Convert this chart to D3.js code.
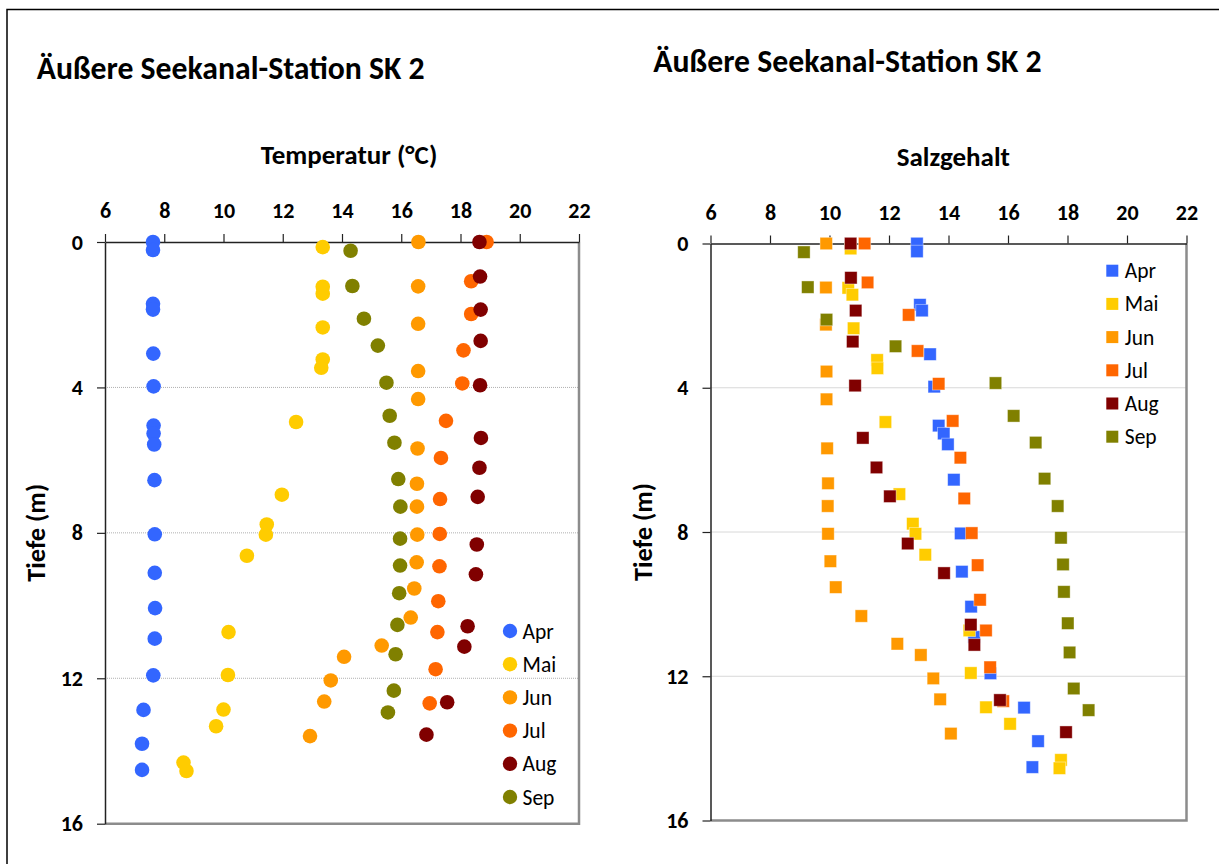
<!DOCTYPE html>
<html>
<head>
<meta charset="utf-8">
<script src="https://cdn.jsdelivr.net/npm/d3@7"></script>
<style>
  body { margin: 0; background: #fff; }
  svg { font-family: Carlito, Lato, sans-serif; }
</style>
</head>
<body>
<div id="wrapper"></div>
<script>
// months and depth profiles (m)
const months = ["Apr", "Mai", "Jun", "Jul", "Aug", "Sep"];
const monthColors = ["#3366ff", "#ffcc00", "#ff9900", "#ff6600", "#800000", "#808000"];

const depthApr = [0, 0.22, 1.7, 1.86, 3.07, 3.97, 5.05, 5.27, 5.57, 6.55, 8.04, 9.1, 10.07, 10.91, 11.92, 12.87, 13.8, 14.52];
const depthMai = [0.14, 1.23, 1.42, 2.35, 3.23, 3.46, 4.95, 6.95, 7.77, 8.05, 8.63, 10.73, 11.91, 12.86, 13.32, 14.32, 14.55];
const depthJun = [0, 1.22, 2.25, 3.55, 4.32, 5.68, 6.65, 7.28, 8.05, 8.81, 9.53, 10.33, 11.1, 11.41, 12.06, 12.64, 13.59];
const depthJul = [0, 1.08, 1.98, 2.98, 3.89, 4.92, 5.94, 7.07, 8.03, 8.92, 9.88, 10.73, 11.75, 12.69];
const depthAug = [0, 0.95, 1.86, 2.72, 3.94, 5.39, 6.21, 7.01, 8.32, 9.14, 10.57, 11.13, 12.66, 13.55];
const depthSep = [0.24, 1.21, 2.11, 2.85, 3.87, 4.78, 5.52, 6.52, 7.28, 8.16, 8.9, 9.66, 10.53, 11.34, 12.34, 12.94];

// temperature (°C)
const tempApr = [7.62, 7.62, 7.62, 7.62, 7.63, 7.64, 7.64, 7.64, 7.66, 7.67, 7.68, 7.68, 7.69, 7.68, 7.63, 7.3, 7.25, 7.25];
const tempMai = [13.35, 13.35, 13.35, 13.35, 13.35, 13.3, 12.45, 11.97, 11.46, 11.43, 10.79, 10.17, 10.15, 10.0, 9.75, 8.65, 8.75];
const tempJun = [16.58, 16.57, 16.57, 16.57, 16.57, 16.55, 16.53, 16.53, 16.54, 16.52, 16.44, 16.32, 15.34, 14.07, 13.62, 13.4, 12.92];
const tempJul = [18.88, 18.36, 18.36, 18.1, 18.06, 17.51, 17.34, 17.31, 17.3, 17.29, 17.25, 17.22, 17.16, 16.96];
const tempAug = [18.64, 18.66, 18.68, 18.68, 18.66, 18.69, 18.64, 18.58, 18.55, 18.52, 18.24, 18.13, 17.55, 16.85];
const tempSep = [14.29, 14.35, 14.74, 15.21, 15.5, 15.61, 15.77, 15.9, 15.97, 15.96, 15.96, 15.93, 15.87, 15.81, 15.75, 15.55];

// salinity
const salApr = [12.94, 12.94, 13.04, 13.11, 13.38, 13.52, 13.67, 13.84, 13.98, 14.18, 14.41, 14.45, 14.76, 14.86, 15.41, 16.54, 17.01, 16.82];
const salMai = [10.71, 10.63, 10.77, 10.81, 11.6, 11.61, 11.88, 12.35, 12.8, 12.89, 13.22, 14.7, 14.75, 15.26, 16.07, 17.78, 17.73];
const salJun = [9.89, 9.88, 9.88, 9.9, 9.9, 9.92, 9.95, 9.94, 9.95, 10.03, 10.21, 11.07, 12.28, 13.07, 13.49, 13.72, 14.08];
const salJul = [11.18, 11.28, 12.66, 12.96, 13.67, 14.14, 14.4, 14.53, 14.78, 14.98, 15.06, 15.26, 15.4, 15.84];
const salAug = [10.71, 10.72, 10.88, 10.78, 10.86, 11.12, 11.58, 12.03, 12.63, 13.85, 14.75, 14.87, 15.73, 17.95];
const salSep = [9.14, 9.27, 9.9, 12.22, 15.58, 16.19, 16.93, 17.23, 17.67, 17.78, 17.85, 17.88, 18.01, 18.07, 18.21, 18.71];

const xTicks = [6, 8, 10, 12, 14, 16, 18, 20, 22];
const yTicks = [0, 4, 8, 12, 16];
const gridDepths = [4, 8, 12];

const depths = [depthApr, depthMai, depthJun, depthJul, depthAug, depthSep];
const temps = [tempApr, tempMai, tempJun, tempJul, tempAug, tempSep];
const sals = [salApr, salMai, salJun, salJul, salAug, salSep];

const width = 1219, height = 864;

const svg = d3.select("#wrapper").append("svg")
    .attr("width", width)
    .attr("height", height);

// outer frame (runs off the right and bottom edges)
svg.append("rect")
    .attr("x", 7).attr("y", 9.5)
    .attr("width", 1240).attr("height", 900)
    .attr("fill", "none").attr("stroke", "#000").attr("stroke-width", 1.5);

// shrink/grow a text so it spans the wanted width
function fitText(sel, w) {
    const size = parseFloat(sel.style("font-size"));
    const len = sel.node().getComputedTextLength();
    sel.style("font-size", (size * w / len) + "px");
}

function buildPanel(p) {
    const g = svg.append("g");

    const xScale = d3.scaleLinear().domain([6, 22]).range([p.left, p.right]);
    const yScale = d3.scaleLinear().domain([0, 16]).range([p.top, p.bottom]);

    // titles
    const title = g.append("text")
        .attr("x", p.titleX).attr("y", p.titleY)
        .style("font-size", "28px").style("font-weight", "bold")
        .text("Äußere Seekanal-Station SK 2");
    fitText(title, p.titleW);

    const xTitle = g.append("text")
        .attr("x", p.xTitleX).attr("y", p.xTitleY)
        .attr("text-anchor", "middle")
        .style("font-size", "22px").style("font-weight", "bold")
        .text(p.xTitle);
    fitText(xTitle, p.xTitleW);

    const yTitle = g.append("text")
        .attr("transform", `translate(${p.yTitleX},${(p.top + p.bottom) / 2}) rotate(-90)`)
        .attr("text-anchor", "middle")
        .style("font-size", "22px").style("font-weight", "bold")
        .text("Tiefe (m)");
    fitText(yTitle, 98);

    // dotted gridlines
    g.selectAll(".grid").data(gridDepths).join("line")
        .attr("x1", p.left).attr("x2", p.right)
        .attr("y1", d => yScale(d)).attr("y2", d => yScale(d))
        .attr("stroke", "#b0b0b0").attr("stroke-width", 1)
        .attr("stroke-dasharray", "1,1");

    // right and bottom frame in grey
    g.append("path")
        .attr("d", `M${p.right},${p.top}V${p.bottom}H${p.left}`)
        .attr("fill", "none").attr("stroke", "#8c8c8c").attr("stroke-width", 2.5);

    const xAxis = g.append("g")
        .attr("transform", `translate(0,${p.top})`)
        .call(d3.axisTop(xScale).tickValues(xTicks).tickSize(8).tickPadding(16).tickSizeOuter(0));
    const yAxis = g.append("g")
        .attr("transform", `translate(${p.left},0)`)
        .call(d3.axisLeft(yScale).tickValues(yTicks).tickSize(8).tickPadding(14).tickSizeOuter(0));

    [xAxis, yAxis].forEach(a => {
        a.select(".domain").attr("stroke", "#222").attr("stroke-width", 1.5);
        a.selectAll(".tick line").attr("stroke", "#222").attr("stroke-width", 1.2);
        a.selectAll(".tick text")
            .attr("fill", "#000")
            .style("font-family", "Carlito, Lato, sans-serif")
            .style("font-size", "22px").style("font-weight", "bold");
    });

    // points, one group per month, later months drawn on top
    months.forEach((m, i) => {
        const pts = depths[i].map((d, j) => ({ depth: d, v: p.values[i][j] }));
        const mg = g.append("g");
        if (p.shape === "circle") {
            mg.selectAll("circle").data(pts).join("circle")
                .attr("cx", d => xScale(d.v))
                .attr("cy", d => yScale(d.depth))
                .attr("r", 7.3)
                .attr("fill", monthColors[i]);
        } else {
            mg.selectAll("rect").data(pts).join("rect")
                .attr("x", d => xScale(d.v) - 6.2)
                .attr("y", d => yScale(d.depth) - 6.2)
                .attr("width", 12.4).attr("height", 12.4)
                .attr("fill", monthColors[i])
                .attr("stroke", "#fff").attr("stroke-opacity", 0.5).attr("stroke-width", 0.8);
        }
    });

    // legend
    const lg = g.append("g");
    months.forEach((m, i) => {
        const y = p.legendY + i * 33.2;
        if (p.shape === "circle") {
            lg.append("circle").attr("cx", p.legendX).attr("cy", y).attr("r", 7.2)
                .attr("fill", monthColors[i]);
        } else {
            lg.append("rect").attr("x", p.legendX - 6).attr("y", y - 6)
                .attr("width", 12).attr("height", 12).attr("fill", monthColors[i]);
        }
        lg.append("text")
            .attr("x", p.legendX + 12.5).attr("y", y)
            .attr("dy", "0.35em")
            .style("font-size", "21.5px")
            .text(m);
    });
}

buildPanel({
    left: 105, right: 579, top: 242, bottom: 823.7,
    titleX: 36.7, titleY: 79.3, titleW: 388,
    xTitle: "Temperatur (°C)", xTitleX: 349, xTitleY: 164, xTitleW: 176.7,
    yTitleX: 45,
    values: temps, shape: "circle",
    legendX: 510, legendY: 631
});

buildPanel({
    left: 710.5, right: 1186.5, top: 243.5, bottom: 820.5,
    titleX: 653.3, titleY: 71.7, titleW: 388.4,
    xTitle: "Salzgehalt", xTitleX: 953.3, xTitleY: 166, xTitleW: 113.3,
    yTitleX: 651.7,
    values: sals, shape: "square",
    legendX: 1112.3, legendY: 270.7
});
</script>
</body>
</html>
